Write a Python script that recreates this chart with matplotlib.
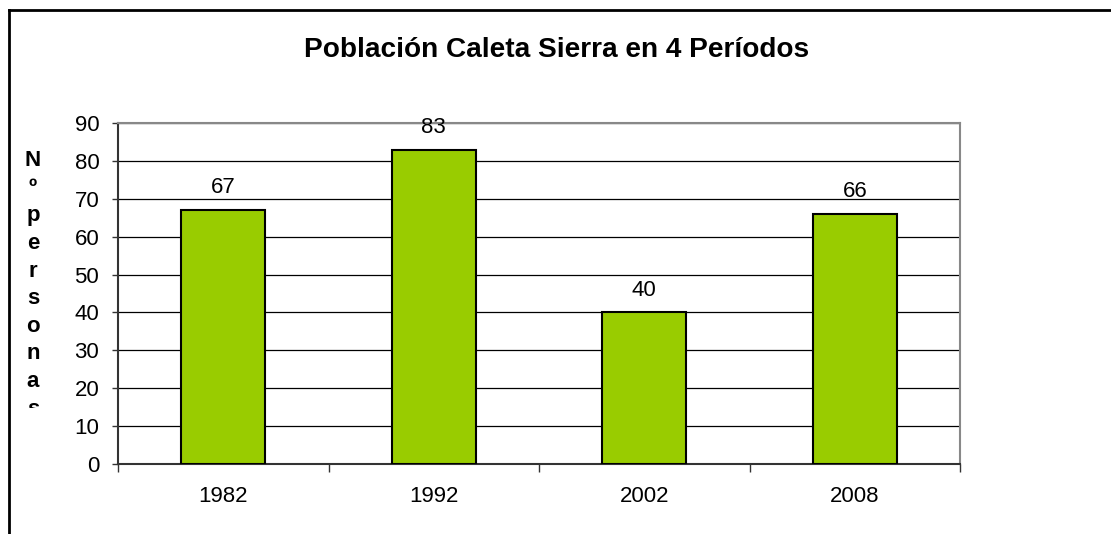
import matplotlib
matplotlib.use("Agg")
import matplotlib.pyplot as plt
from matplotlib.lines import Line2D
from matplotlib.transforms import Bbox, TransformedBbox

plt.rcParams['font.family'] = ['Liberation Sans', 'DejaVu Sans']

title = "Población Caleta Sierra en 4 Períodos"
ylabel = "Nº personas"
years = ["1982", "1992", "2002", "2008"]
people = [67, 83, 40, 66]
yticks = [0, 10, 20, 30, 40, 50, 60, 70, 80, 90]

W, H = 1111, 534
fig = plt.figure(figsize=(W / 100, H / 100), dpi=100)


def fx(px):
    return px / W


def fy(py):
    return 1 - py / H


# plot area in pixel coords of the reference
ax = fig.add_axes([fx(118), fy(464), fx(960) - fx(118), fy(123) - fy(464)])

x = list(range(len(years)))
bars = ax.bar(x, people, width=0.4, color="#99CC00", edgecolor="black",
              linewidth=1.5, zorder=3)
for xi, v in zip(x, people):
    ax.annotate(str(v), (xi, v), xytext=(0, 16), textcoords="offset points",
                ha="center", va="center", fontsize=16, zorder=4)

ax.set_xlim(-0.5, len(years) - 0.5)
ax.set_ylim(0, 90)
ax.set_yticks(yticks)
ax.tick_params(axis="y", direction="out", length=4.5, width=1, pad=9,
               labelsize=16, color="#333333")
ax.set_xticks(x)
ax.set_xticklabels(years)
ax.tick_params(axis="x", which="major", length=0, pad=16, labelsize=16)
ax.set_xticks([i - 0.5 for i in range(len(years) + 1)], minor=True)
ax.tick_params(axis="x", which="minor", direction="out", length=6, width=1,
               color="#333333")

ax.yaxis.grid(True, color="black", linewidth=0.9, zorder=0)
ax.set_axisbelow(True)
for side in ("left", "bottom"):
    ax.spines[side].set_color("#333333")
    ax.spines[side].set_linewidth(1.5)
for side in ("top", "right"):
    ax.spines[side].set_color("#888888")
    ax.spines[side].set_linewidth(1.5)

fig.text(fx(557), fy(50), title, ha="center", va="center",
         fontsize=20.2, fontweight="bold")

# stacked axis title, cut off at the bottom like the original
stacked = "\n".join(ylabel.replace(" ", ""))
t = fig.text(fx(33), fy(150), stacked, ha="center", va="top",
             fontsize=16, fontweight="bold", linespacing=1.415)
t.set_clip_box(TransformedBbox(Bbox.from_extents(0, fy(408), 0.1, 1),
                               fig.transFigure))
t.set_clip_on(True)

# outer chart border (only top/left visible)
fig.add_artist(Line2D([fx(9), fx(9)], [fy(10), 0], color="black",
                      linewidth=2, transform=fig.transFigure))
fig.add_artist(Line2D([fx(9), 1], [fy(10), fy(10)], color="black",
                      linewidth=2, transform=fig.transFigure))

fig.savefig("out.png", dpi=100)
